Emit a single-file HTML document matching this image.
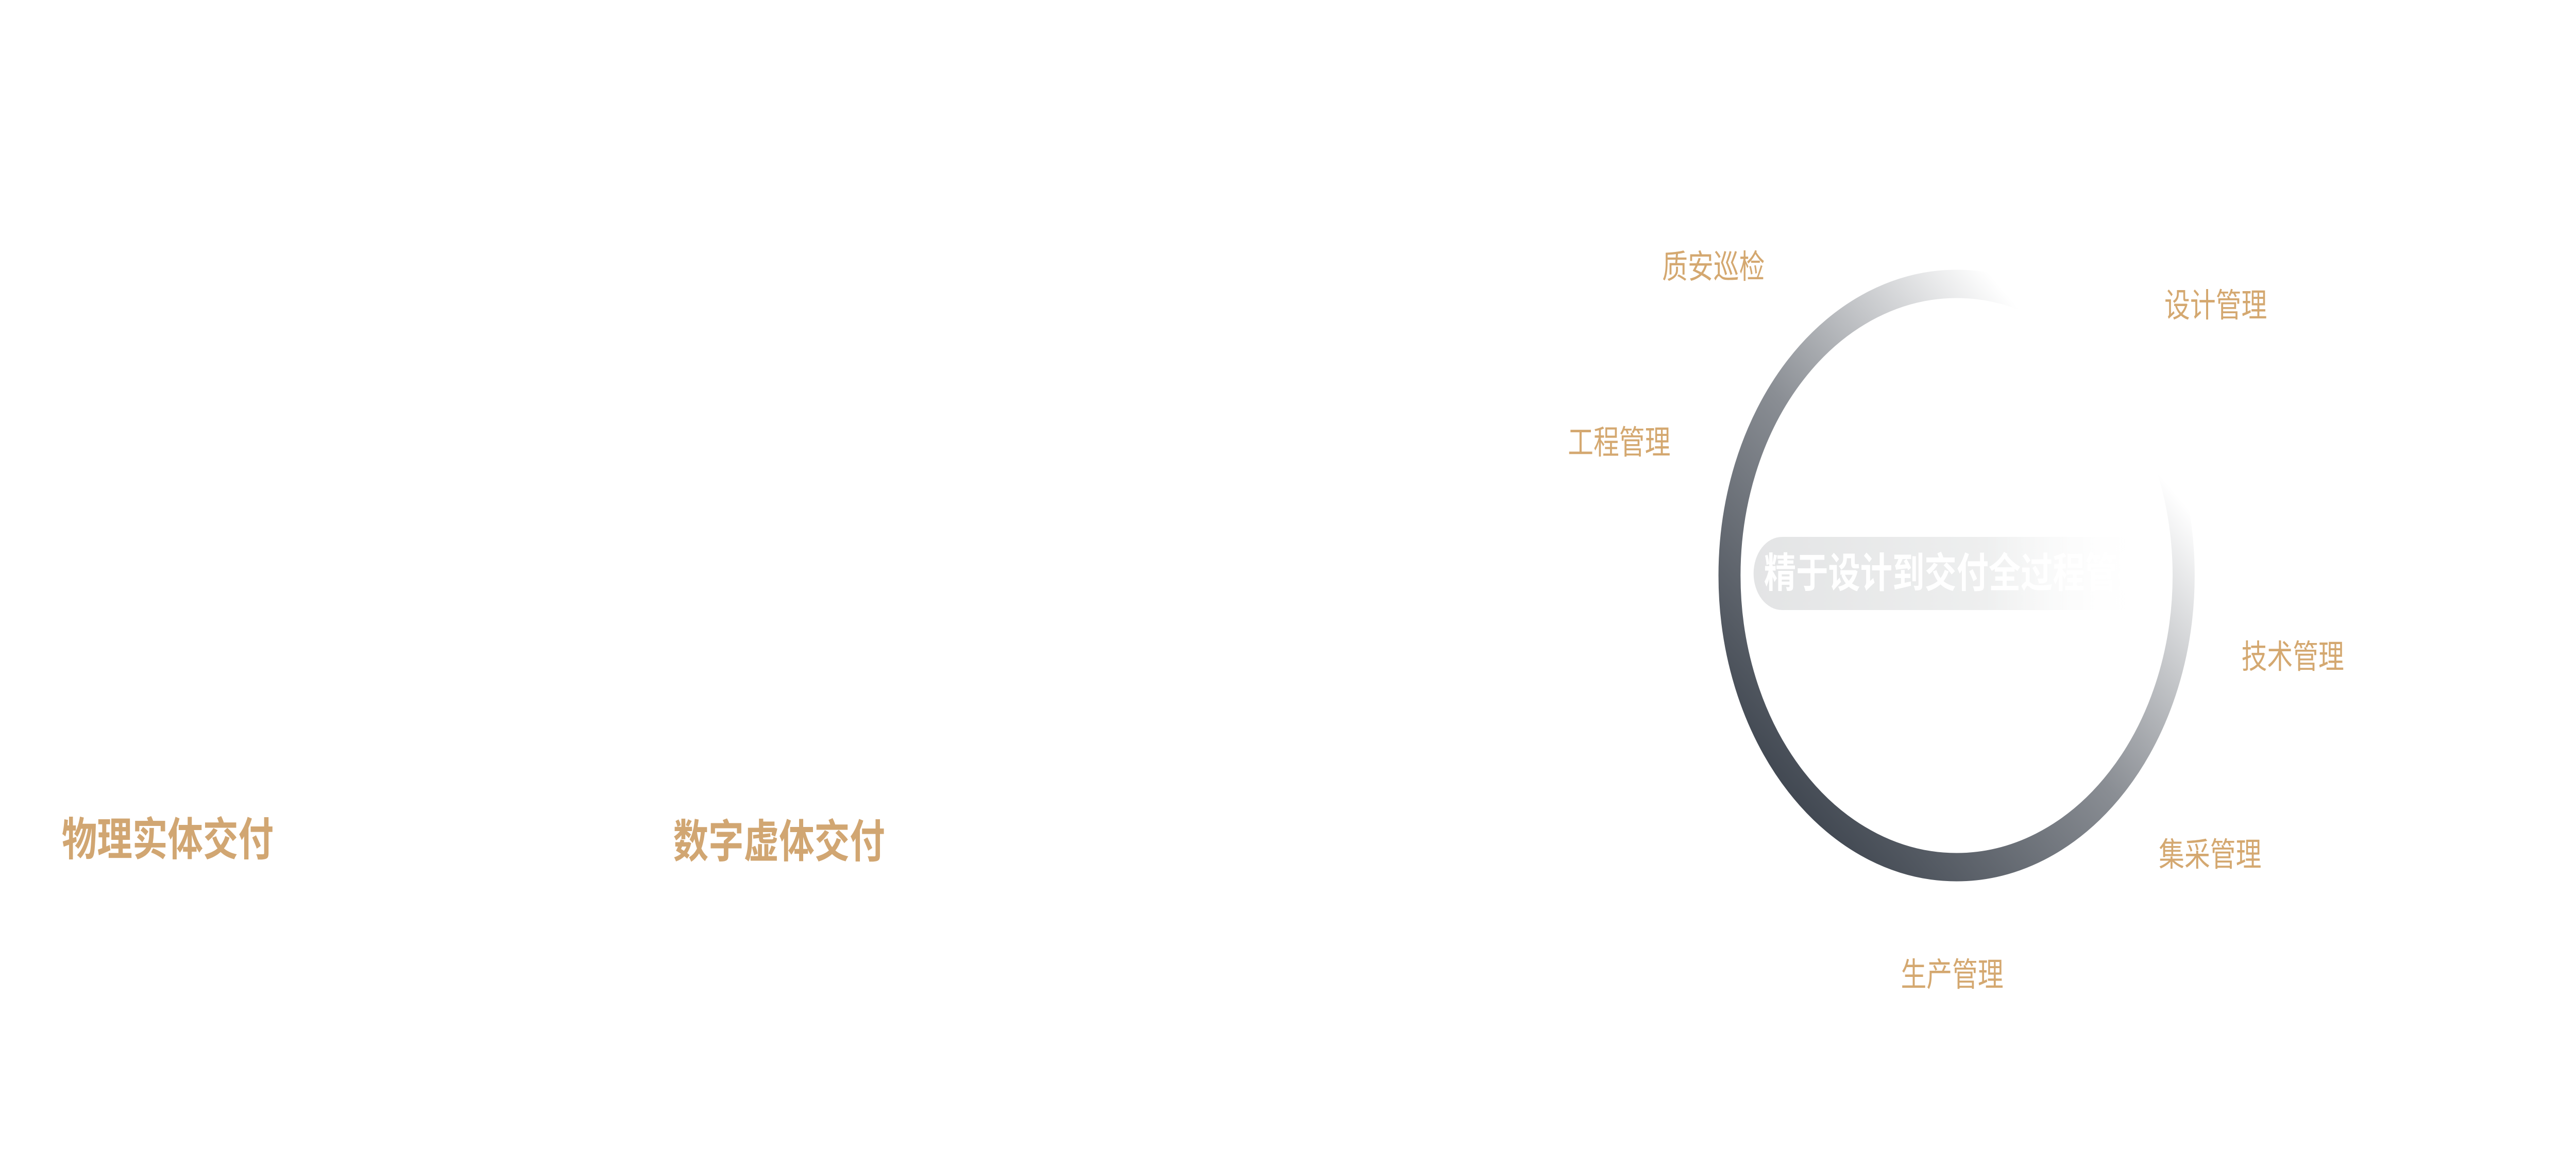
<!DOCTYPE html>
<html><head><meta charset="utf-8"><style>
html,body{margin:0;padding:0;background:#fff;width:100%;height:100%;overflow:hidden;}
svg{position:fixed;left:0;top:0;width:100vw;height:100vh;display:block;}
</style></head><body>
<svg viewBox="0 0 6421 2263" preserveAspectRatio="none" xmlns="http://www.w3.org/2000/svg">
<defs>
<linearGradient id="ring" x1="4450" y1="1600" x2="5350" y2="620" gradientUnits="userSpaceOnUse">
<stop offset="0" stop-color="#3b424c"/>
<stop offset="0.45" stop-color="#8a8e94"/>
<stop offset="0.85" stop-color="#ffffff"/>
<stop offset="1" stop-color="#ffffff"/>
</linearGradient>
<linearGradient id="pill" x1="4371" y1="0" x2="5340" y2="0" gradientUnits="userSpaceOnUse">
<stop offset="0" stop-color="#e3e4e5"/>
<stop offset="0.6" stop-color="#eeefef"/>
<stop offset="1" stop-color="#ffffff" stop-opacity="0"/>
</linearGradient>
<clipPath id="pc"><rect x="4371" y="1042" width="960" height="142"/></clipPath>
</defs>
<circle cx="4877" cy="1117" r="566" fill="none" stroke="url(#ring)" stroke-width="55"/>
<rect x="4371" y="1042" width="980" height="142" rx="71" fill="url(#pill)"/>
<g clip-path="url(#pc)">
<text x="4397" y="1140" font-family="Liberation Sans, Noto Sans CJK SC, sans-serif" font-weight="bold" font-size="80" fill="#ffffff">精于设计到交付全过程管控</text>
</g>
<g font-family="Liberation Sans, Noto Sans CJK SC, sans-serif" font-size="64" fill="#d4a870">
<text x="4143" y="540">质安巡检</text>
<text x="5395" y="615">设计管理</text>
<text x="3908" y="881">工程管理</text>
<text x="5587" y="1297">技术管理</text>
<text x="5381" y="1681">集采管理</text>
<text x="4738" y="1914">生产管理</text>
</g>
<g font-family="Liberation Sans, Noto Sans CJK SC, sans-serif" font-size="88" font-weight="bold" fill="#d1a672">
<text x="154" y="1660">物理实体交付</text>
<text x="1678" y="1664">数字虚体交付</text>
</g>
</svg>
</body></html>
